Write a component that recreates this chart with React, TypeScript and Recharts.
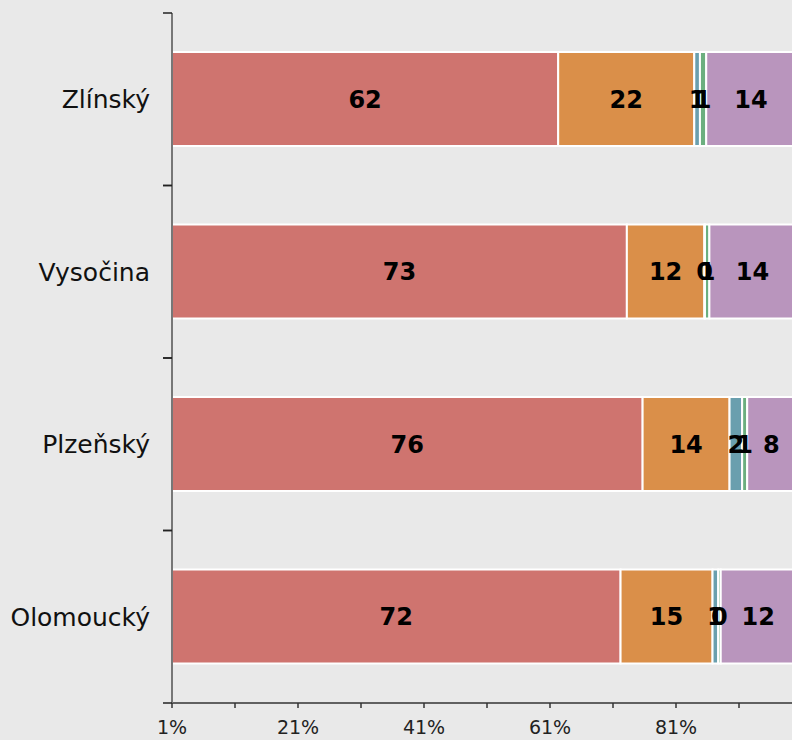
import React from 'react';
import { BarChart, Bar, XAxis, YAxis, LabelList } from 'recharts';

const regions = ['Zlínský', 'Vysočina', 'Plzeňský', 'Olomoucký'];
const redValues = [62.3, 73.2, 75.7, 72.2];
const orangeValues = [21.6, 12.3, 13.8, 14.6];
const blueValues = [0.9, 0.1, 2.0, 0.9];
const greenValues = [1.0, 0.7, 0.8, 0.4];
const purpleValues = [14.2, 13.7, 7.7, 11.9];
const xTicks = [1, 11, 21, 31, 41, 51, 61, 71, 81, 91];

const series = [
  { key: 'red', values: redValues, color: '#cf746f' },
  { key: 'orange', values: orangeValues, color: '#da8f49' },
  { key: 'blue', values: blueValues, color: '#6a9fae' },
  { key: 'green', values: greenValues, color: '#6caf7f' },
  { key: 'purple', values: purpleValues, color: '#b995bd' },
];

const data = regions.map((region, i) => {
  const row: any = { region };
  series.forEach(s => { row[s.key] = s.values[i]; });
  return row;
});

const font = '"DejaVu Sans", Verdana, sans-serif';
const CHART_H = 740;
const TOP = 13;
const X_AXIS_H = 37;
const BAND = (CHART_H - TOP - X_AXIS_H) / regions.length;

// category label plus the small ticks at the band edges
const RegionTick = ({ x, y, payload }: any) => (
  <g>
    <line x1={x - 9} x2={x} y1={y - BAND / 2} y2={y - BAND / 2} stroke="#222" strokeWidth={1.5} />
    <line x1={x - 9} x2={x} y1={y + BAND / 2} y2={y + BAND / 2} stroke="#222" strokeWidth={1.5} />
    <text x={x - 22} y={y} dy={9} textAnchor="end" fill="#111" fontSize={25} fontFamily={font}>
      {payload.value}
    </text>
  </g>
);

export default function App() {
  return (
    <div style={{ position: 'fixed', left: 0, top: 0, width: 792, height: 740, overflow: 'hidden', background: '#e9e9e9' }}>
      <BarChart
        width={802}
        height={CHART_H}
        data={data}
        layout="vertical"
        margin={{ top: TOP, right: 0, bottom: 0, left: 0 }}
        style={{ fontFamily: font }}
      >
        <XAxis
          type="number"
          domain={[1, 101]}
          allowDataOverflow
          ticks={xTicks}
          interval={0}
          height={X_AXIS_H}
          tickSize={5}
          tickMargin={13}
          stroke="#333"
          strokeWidth={1.5}
          tick={{ fill: '#222', fontSize: 19 }}
          tickFormatter={(v: number) => ((v - 1) % 20 === 0 ? `${v}%` : '')}
        />
        <YAxis
          type="category"
          dataKey="region"
          width={172}
          stroke="#777"
          strokeWidth={2}
          tickLine={false}
          tickSize={0}
          tickMargin={0}
          tick={<RegionTick />}
        />
        {series.map(s => (
          <Bar
            key={s.key}
            dataKey={s.key}
            stackId="a"
            fill={s.color}
            stroke="#ffffff"
            strokeWidth={2}
            barSize={94}
            isAnimationActive={false}
          >
            <LabelList
              dataKey={s.key}
              position="center"
              formatter={(v: any) => Math.round(Number(v))}
              style={{ fill: '#000', fontSize: 24, fontWeight: 'bold', fontFamily: font }}
            />
          </Bar>
        ))}
      </BarChart>
    </div>
  );
}
